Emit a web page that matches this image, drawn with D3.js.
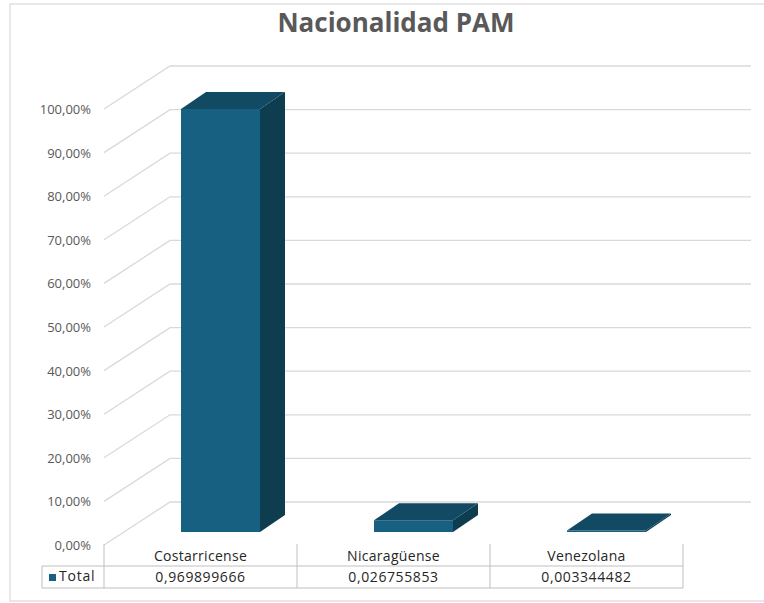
<!DOCTYPE html>
<html><head><meta charset="utf-8">
<script src="https://cdn.jsdelivr.net/npm/d3@7"></script>
<style>body{margin:0;background:#fff}svg{display:block}text{font-family:"Open Sans",sans-serif}</style>
</head><body><svg id="c" width="764" height="603"></svg>
<script>
const title = "Nacionalidad PAM";
const categories = ["Costarricense", "Nicaragüense", "Venezolana"];
const values = [0.969899666, 0.026755853, 0.003344482];
const valueLabels = ["0,969899666", "0,026755853", "0,003344482"];
const seriesName = "Total";
const yTicks = [0, 0.1, 0.2, 0.3, 0.4, 0.5, 0.6, 0.7, 0.8, 0.9, 1.0];

const svg = d3.select("#c");
const left = 104, right = 683, bottom0 = 545, top100 = 109;
const depthX = 66, depthY = -43;        // full floor depth
const barOffX = 20, barOffY = -13;      // bar front plane
const barDX = 25, barDY = -17;          // bar depth

const x = d3.scaleBand().domain(categories).range([left, right]).paddingInner(0).paddingOuter(0);
const y = d3.scaleLinear().domain([0, 1]).range([bottom0, top100]);
const fmt = d => d3.format(".2f")(d * 100).replace(".", ",") + "%";

svg.append("rect").attr("x", 10).attr("y", 4).attr("width", 770).attr("height", 597)
  .attr("fill", "#fff").attr("stroke", "#d9d9d9").attr("stroke-width", 1.2);

svg.append("text").attr("x", 396).attr("y", 32).attr("text-anchor", "middle")
  .attr("font-size", 26).attr("font-weight", 700).attr("fill", "#595959").text(title);

// gridlines (3D walls)
const g = svg.append("g");
yTicks.forEach(t => {
  const yy = y(t);
  g.append("path")
    .attr("d", `M${left},${yy}L${left + depthX},${yy + depthY}L${right + depthX + 2},${yy + depthY}`)
    .attr("fill", "none").attr("stroke", "#d9d9d9").attr("stroke-width", 1.3);
  g.append("text").attr("x", 91).attr("y", yy + 5).attr("text-anchor", "end")
    .attr("font-size", 13).attr("fill", "#595959").text(fmt(t));
});

// bars
const bw = 79;
const bars = svg.append("g");
categories.forEach((c, i) => {
  const x0 = x(c) + (x.bandwidth() - bw) / 2 + barOffX;
  const x1 = x0 + bw;
  const yb = y(0) + barOffY;
  const yt = y(values[i]) + barOffY;
  bars.append("path").attr("d", `M${x0},${yb}L${x1},${yb}L${x1},${yt}L${x0},${yt}Z`).attr("fill", "#186081");
  bars.append("path").attr("d", `M${x1},${yb}L${x1 + barDX},${yb + barDY}L${x1 + barDX},${yt + barDY}L${x1},${yt}Z`).attr("fill", "#0e3d50");
  bars.append("path").attr("d", `M${x0},${yt}L${x1},${yt}L${x1 + barDX},${yt + barDY}L${x0 + barDX},${yt + barDY}Z`).attr("fill", "#134a63");
});

// data table
const tbl = svg.append("g");
const rowTop = 566, rowBot = 588, headTop = 544, tblLeft = 42;
const lc = "#bfbfbf";
tbl.append("line").attr("x1", tblLeft).attr("x2", right).attr("y1", rowTop).attr("y2", rowTop).attr("stroke", lc);
tbl.append("line").attr("x1", tblLeft).attr("x2", right).attr("y1", rowBot).attr("y2", rowBot).attr("stroke", lc);
tbl.append("line").attr("x1", tblLeft).attr("x2", tblLeft).attr("y1", rowTop).attr("y2", rowBot).attr("stroke", lc);
[left, ...categories.map(c => x(c) + x.bandwidth())].forEach(xx => {
  tbl.append("line").attr("x1", xx).attr("x2", xx).attr("y1", headTop).attr("y2", rowBot).attr("stroke", lc);
});
categories.forEach((c, i) => {
  const cx = x(c) + x.bandwidth() / 2;
  tbl.append("text").attr("x", cx).attr("y", 561).attr("text-anchor", "middle")
    .attr("font-size", 14).attr("letter-spacing", 0.3).attr("fill", "#262626").text(c);
  tbl.append("text").attr("x", cx).attr("y", 582).attr("text-anchor", "middle")
    .attr("font-size", 14).attr("letter-spacing", 0.6).attr("fill", "#262626").text(valueLabels[i]);
});
tbl.append("rect").attr("x", 49).attr("y", 574).attr("width", 7).attr("height", 7).attr("fill", "#186081");
tbl.append("text").attr("x", 59).attr("y", 581).attr("font-size", 14).attr("letter-spacing", 0.8)
  .attr("fill", "#262626").text(seriesName);
</script></body></html>
